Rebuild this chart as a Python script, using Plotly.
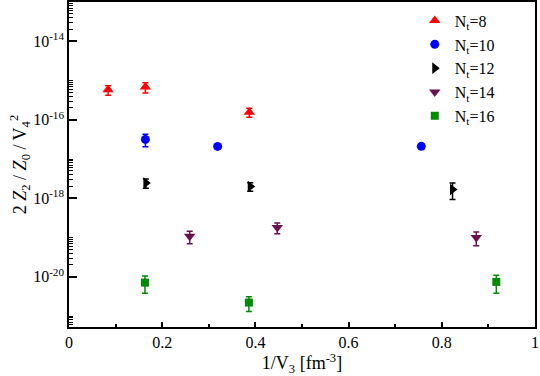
import plotly.graph_objects as go

# data: x = 1/V3 [fm^-3], y = 2 Z2/Z0/V4^2
x_nt8 = [0.084, 0.164, 0.387]
y_nt8 = [5.8e-16, 6.8e-16, 1.56e-16]
e_nt8 = [1.6e-16, 2.0e-16, 0.4e-16]

x_nt10 = [0.164, 0.319, 0.756]
y_nt10 = [3.16e-17, 2.09e-17, 2.1e-17]
e_nt10 = [1.1e-17, 0.3e-17, 0.3e-17]

x_nt12 = [0.165, 0.389, 0.823]
y_nt12 = [2.44e-18, 2.0e-18, 1.68e-18]
e_nt12 = [0.65e-18, 0.5e-18, 0.75e-18]

x_nt14 = [0.259, 0.447, 0.874]
y_nt14 = [1.07e-19, 1.79e-19, 1.0e-19]
e_nt14 = [0.38e-19, 0.55e-19, 0.38e-19]

x_nt16 = [0.163, 0.386, 0.917]
y_nt16 = [7.1e-21, 2.2e-21, 7.4e-21]
e_nt16 = [3.3e-21, 0.9e-21, 3.6e-21]

y_exponents = [-20, -18, -16, -14]

series = [
    ("N<sub>t</sub>=8", x_nt8, y_nt8, e_nt8, "triangle-up", "#ff0000", 10),
    ("N<sub>t</sub>=10", x_nt10, y_nt10, e_nt10, "circle", "#0000ff", 9),
    ("N<sub>t</sub>=12", x_nt12, y_nt12, e_nt12, "triangle-right", "#000000", 10),
    ("N<sub>t</sub>=14", x_nt14, y_nt14, e_nt14, "triangle-down", "#6b0f4f", 10),
    ("N<sub>t</sub>=16", x_nt16, y_nt16, e_nt16, "square", "#008b00", 8),
]

# minor ticks drawn Grace-style: 2..10 x 10^(even exponent)
minor_y = [k * 10.0 ** e for e in (-22, -20, -18, -16, -14) for k in range(2, 11)]

fig = go.Figure()
for name, xs, ys, es, sym, col, sz in series:
    fig.add_trace(go.Scatter(
        x=xs, y=ys, mode="markers", name=name,
        marker=dict(symbol=sym, color=col, size=sz),
        error_y=dict(type="data", array=es, color=col, thickness=1.5, width=3),
    ))

font = "Liberation Serif"
fig.update_layout(
    width=540, height=376,
    margin=dict(l=69, r=5, t=2, b=49),
    plot_bgcolor="white", paper_bgcolor="white",
    font=dict(family=font, color="black"),
    showlegend=True,
    legend=dict(x=0.742, y=0.995, xanchor="left", yanchor="top",
                font=dict(size=16, family=font), bgcolor="rgba(0,0,0,0)",
                itemwidth=30, tracegroupgap=0),
)
fig.update_xaxes(
    range=[0, 1], dtick=0.2, automargin=False,
    ticks="inside", ticklen=5, tickwidth=1.5, tickcolor="black",
    minor=dict(dtick=0.1, ticks="inside", ticklen=3, tickcolor="black", tickwidth=1.5),
    showline=True, linecolor="black", linewidth=1.5, mirror=True,
    showgrid=False, zeroline=False,
    tickfont=dict(size=16, family=font),
    title=dict(text="1/V<sub>3</sub> [fm<sup>-3</sup>]", font=dict(size=18, family=font), standoff=9),
)
fig.update_yaxes(
    type="log", range=[-21.28, -13.0], automargin=False,
    tickmode="array",
    tickvals=[10.0 ** e for e in y_exponents],
    ticktext=["10<sup>%d</sup>" % e for e in y_exponents],
    ticks="inside", ticklen=8, tickwidth=1.5, tickcolor="black",
    minor=dict(tickvals=minor_y, ticks="inside", ticklen=4, tickcolor="black", tickwidth=1),
    showline=True, linecolor="black", linewidth=1.5, mirror=True,
    showgrid=False, zeroline=False,
    tickfont=dict(size=16, family=font),
    title=dict(text="2 <i>Z</i><sub>2</sub> / <i>Z</i><sub>0</sub> / V<sub>4</sub><sup>2</sup>",
               font=dict(size=18, family=font), standoff=2),
)

# the page body has a default 8px margin; drop it so the figure sits at 0,0
fig.write_html("out.html", config={"displayModeBar": False},
               post_script="document.body.style.margin='0';")
